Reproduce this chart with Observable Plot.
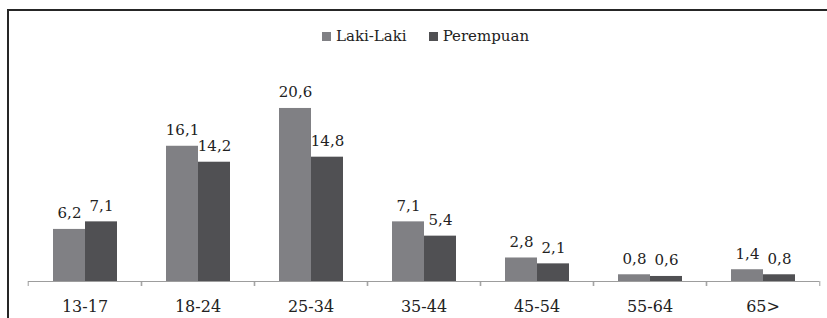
<!DOCTYPE html>
<html>
<head>
<meta charset="utf-8">
<script src="https://cdn.jsdelivr.net/npm/d3@7"></script>
<script src="https://cdn.jsdelivr.net/npm/@observablehq/plot@0.6"></script>
<style>
  body { margin: 0; background: #fff; }
  #wrap { position: relative; width: 827px; height: 318px; overflow: hidden; background: #fff; font-family: "DejaVu Serif", serif; }
  #border { position: absolute; left: 7px; top: 9px; width: 900px; height: 400px; border: 2px solid #262626; box-sizing: border-box; }
  #legend { position: absolute; left: 322px; top: 27px; height: 18px; display: flex; align-items: center; font-size: 15px; color: #222; white-space: nowrap; }
  #legend .item { display: flex; align-items: center; margin-right: 22px; }
  #legend .sw { width: 9px; height: 9px; margin-right: 5px; display: inline-block; }
  #chart { position: absolute; left: 0; top: 50px; }
</style>
</head>
<body>
<div id="wrap">
  <div id="border"></div>
  <div id="legend"></div>
  <div id="chart"></div>
</div>
<script>
const ages = ["13-17", "18-24", "25-34", "35-44", "45-54", "55-64", "65>"];
const laki = [6.2, 16.1, 20.6, 7.1, 2.8, 0.8, 1.4];
const perempuan = [7.1, 14.2, 14.8, 5.4, 2.1, 0.6, 0.8];
const series = ["Laki-Laki", "Perempuan"];
const colors = ["#808084", "#505053"];

const data = ages.flatMap((a, i) => [
  {age: a, sex: series[0], value: laki[i]},
  {age: a, sex: series[1], value: perempuan[i]}
]);

const fmt = v => v.toFixed(1).replace(".", ",");

// legend
const legend = document.getElementById("legend");
series.forEach((s, i) => {
  const item = document.createElement("span");
  item.className = "item";
  const sw = document.createElement("span");
  sw.className = "sw";
  sw.style.background = colors[i];
  item.appendChild(sw);
  item.appendChild(document.createTextNode(s));
  legend.appendChild(item);
});

const W = 827, H = 268, ML = 26, MR = 6, MT = 21, MB = 37;
const step = (W - ML - MR) / ages.length;
const axisColor = "#9d9d9d";

const chart = Plot.plot({
  width: W, height: H,
  marginLeft: ML, marginRight: MR, marginTop: MT, marginBottom: MB,
  fx: {domain: ages, padding: 0, label: null},
  x: {domain: series, paddingInner: 0, paddingOuter: 0.76, axis: null},
  y: {domain: [0, 25], axis: null},
  color: {domain: series, range: colors},
  style: {fontFamily: "DejaVu Serif", background: "transparent", overflow: "visible", color: "#222"},
  marks: [
    Plot.barY(data, {fx: "age", x: "sex", y: "value", fill: "sex"}),
    Plot.ruleY([0], {stroke: axisColor, strokeWidth: 1}),
    Plot.text(data, {fx: "age", x: "sex", y: "value", text: d => fmt(d.value), dy: -11, lineAnchor: "bottom", fontSize: 15, fill: "#222"}),
    Plot.axisFx({anchor: "bottom", tickSize: 0, tickPadding: 19, fontSize: 16, fill: "#222", label: null}),
    Plot.axisFx({anchor: "bottom", tickSize: 5, fill: "none", stroke: axisColor, dx: -step / 2, label: null}),
    Plot.axisFx([ages[ages.length - 1]], {anchor: "bottom", tickSize: 5, fill: "none", stroke: axisColor, dx: step / 2, label: null})
  ]
});
document.getElementById("chart").appendChild(chart);
</script>
</body>
</html>
